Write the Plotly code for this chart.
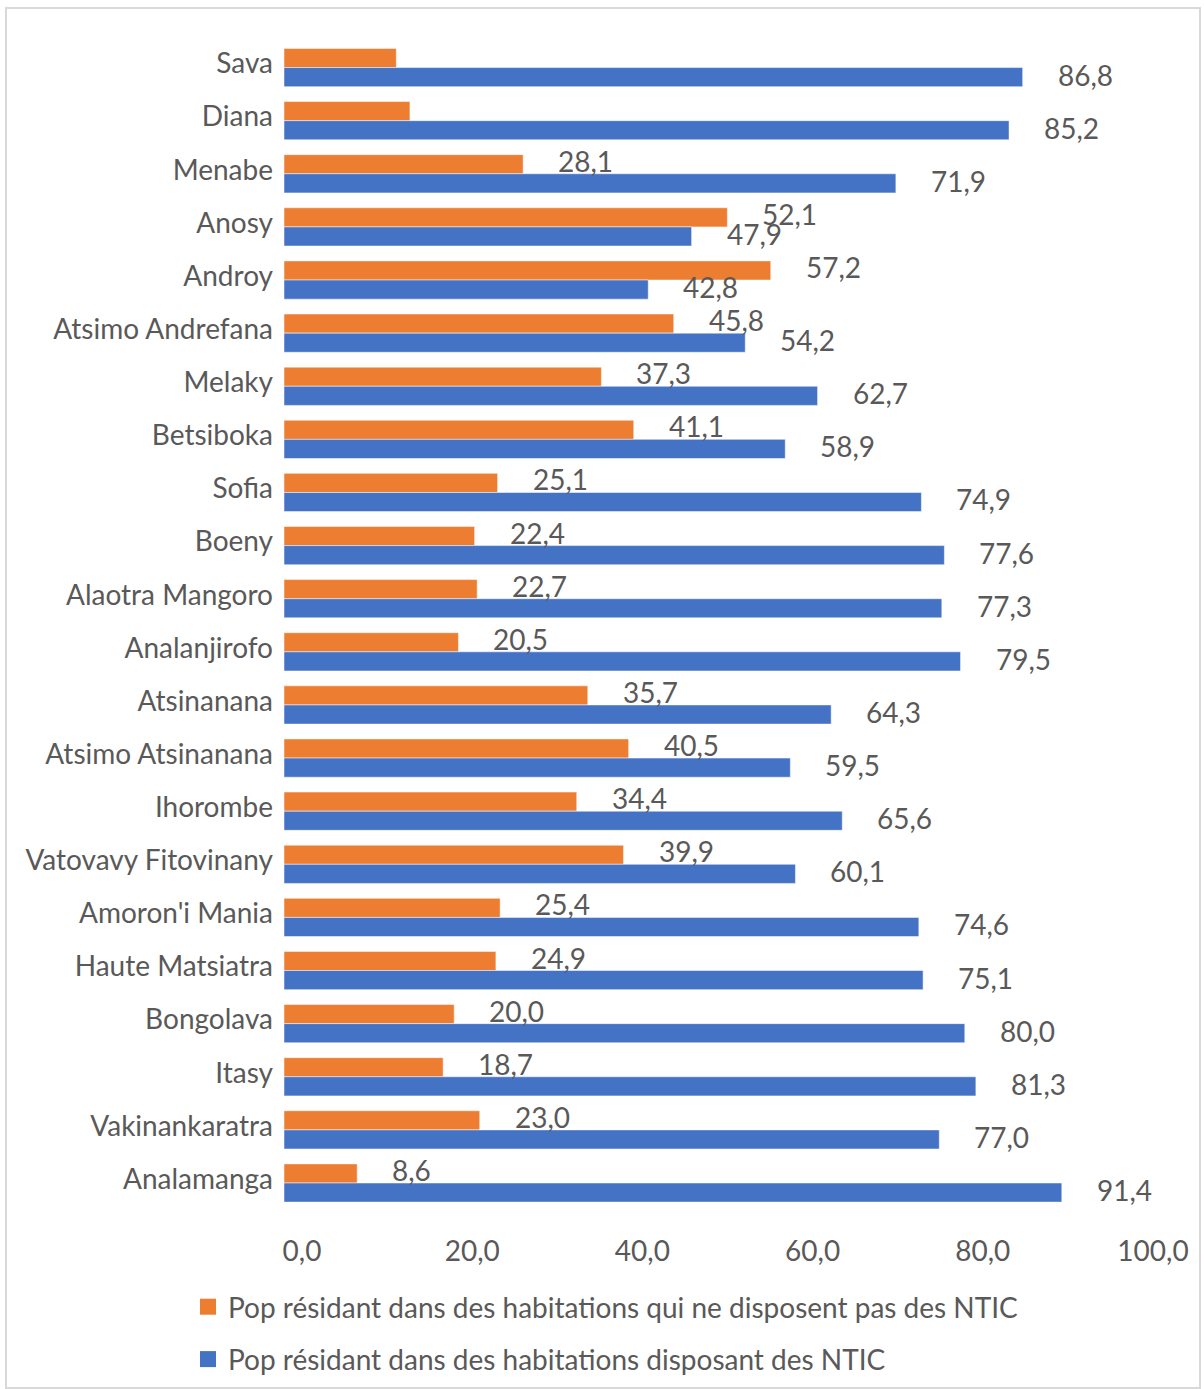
import plotly.graph_objects as go

# Regions, listed top to bottom
regions = [
    "Sava", "Diana", "Menabe", "Anosy", "Androy", "Atsimo Andrefana", "Melaky",
    "Betsiboka", "Sofia", "Boeny", "Alaotra Mangoro", "Analanjirofo", "Atsinanana",
    "Atsimo Atsinanana", "Ihorombe", "Vatovavy Fitovinany", "Amoron'i Mania",
    "Haute Matsiatra", "Bongolava", "Itasy", "Vakinankaratra", "Analamanga",
]

# Share of population (%) living in dwellings without / with ICT
sans_ntic = [13.2, 14.8, 28.1, 52.1, 57.2, 45.8, 37.3, 41.1, 25.1, 22.4, 22.7,
             20.5, 35.7, 40.5, 34.4, 39.9, 25.4, 24.9, 20.0, 18.7, 23.0, 8.6]
avec_ntic = [86.8, 85.2, 71.9, 47.9, 42.8, 54.2, 62.7, 58.9, 74.9, 77.6, 77.3,
             79.5, 64.3, 59.5, 65.6, 60.1, 74.6, 75.1, 80.0, 81.3, 77.0, 91.4]

# Regions whose "sans NTIC" value is not labelled
unlabelled_sans = {"Sava", "Diana"}

x_ticks = [0, 20, 40, 60, 80, 100]

name_sans = "Pop résidant dans des habitations qui ne disposent pas des NTIC"
name_avec = "Pop résidant dans des habitations disposant des NTIC"

ORANGE = "#ED7D31"
BLUE = "#4472C4"
TEXT = "#595959"
FONT = "Lato, 'Open Sans', sans-serif"
FS = 28

W, H = 1204, 1389
ML, MR, MT, MB = 284, 69, 41, 174
PW, PH = W - ML - MR, H - MT - MB


def fr(v):
    return f"{v:.1f}".replace(".", ",")


bar_edge = dict(color="rgba(255,255,255,0.5)", width=1)

fig = go.Figure()
fig.add_trace(go.Bar(
    y=regions, x=sans_ntic, orientation="h", name=name_sans,
    marker=dict(color=ORANGE, line=bar_edge),
    legendgroup="a", showlegend=False,
))
fig.add_trace(go.Bar(
    y=regions, x=avec_ntic, orientation="h", name=name_avec,
    marker=dict(color=BLUE, line=bar_edge),
    legendgroup="b", showlegend=False,
))
# Legend entries with larger square swatches
for nm, col, grp in [(name_sans, ORANGE, "a"), (name_avec, BLUE, "b")]:
    fig.add_trace(go.Scatter(
        x=[None], y=[None], mode="markers", name=nm, legendgroup=grp,
        marker=dict(symbol="square", size=17, color=col), showlegend=True,
    ))

# Value labels placed a little beyond the end of each bar
annotations = []
for reg, vs, va in zip(regions, sans_ntic, avec_ntic):
    if reg not in unlabelled_sans:
        annotations.append(dict(x=vs, y=reg, text=fr(vs), xanchor="left",
                                xshift=33, yshift=13, showarrow=False,
                                font=dict(size=FS, color=TEXT, family=FONT)))
    annotations.append(dict(x=va, y=reg, text=fr(va), xanchor="left",
                            xshift=33, yshift=-7, showarrow=False,
                            font=dict(size=FS, color=TEXT, family=FONT)))

# Light frame around the whole chart
def px_to_paper_x(px):
    return (px - ML) / PW


def px_to_paper_y(py):
    return (H - MB - py) / PH


fig.add_shape(type="rect", xref="paper", yref="paper",
              x0=px_to_paper_x(6), x1=px_to_paper_x(1200),
              y0=px_to_paper_y(1388), y1=px_to_paper_y(8),
              line=dict(color="#d9d9d9", width=2), fillcolor="rgba(0,0,0,0)",
              layer="below")

fig.update_layout(
    width=W, height=H,
    margin=dict(l=ML, r=MR, t=MT, b=MB, autoexpand=False),
    paper_bgcolor="white", plot_bgcolor="white",
    barmode="group", bargap=0.28, bargroupgap=0.0,
    separators=", ",
    font=dict(family=FONT, size=FS, color=TEXT),
    annotations=annotations,
    showlegend=True,
    legend=dict(
        x=px_to_paper_x(188), xanchor="left",
        y=px_to_paper_y(1282), yanchor="top",
        orientation="v", tracegroupgap=13,
        font=dict(size=FS, color=TEXT, family=FONT),
        bgcolor="rgba(0,0,0,0)",
    ),
    xaxis=dict(
        range=[0, 100], tickvals=x_ticks, tickformat=".1f",
        showgrid=False, zeroline=False, showline=False, ticks="",
        ticklabelshift=18, ticklabelstandoff=17, automargin=False,
        tickfont=dict(size=FS, color=TEXT, family=FONT),
    ),
    yaxis=dict(
        autorange="reversed", showgrid=False, showline=False, ticks="",
        ticklabelstandoff=10, ticklabelshift=4, automargin=False,
        tickfont=dict(size=FS, color=TEXT, family=FONT),
    ),
)

fig.write_html("out.html")
